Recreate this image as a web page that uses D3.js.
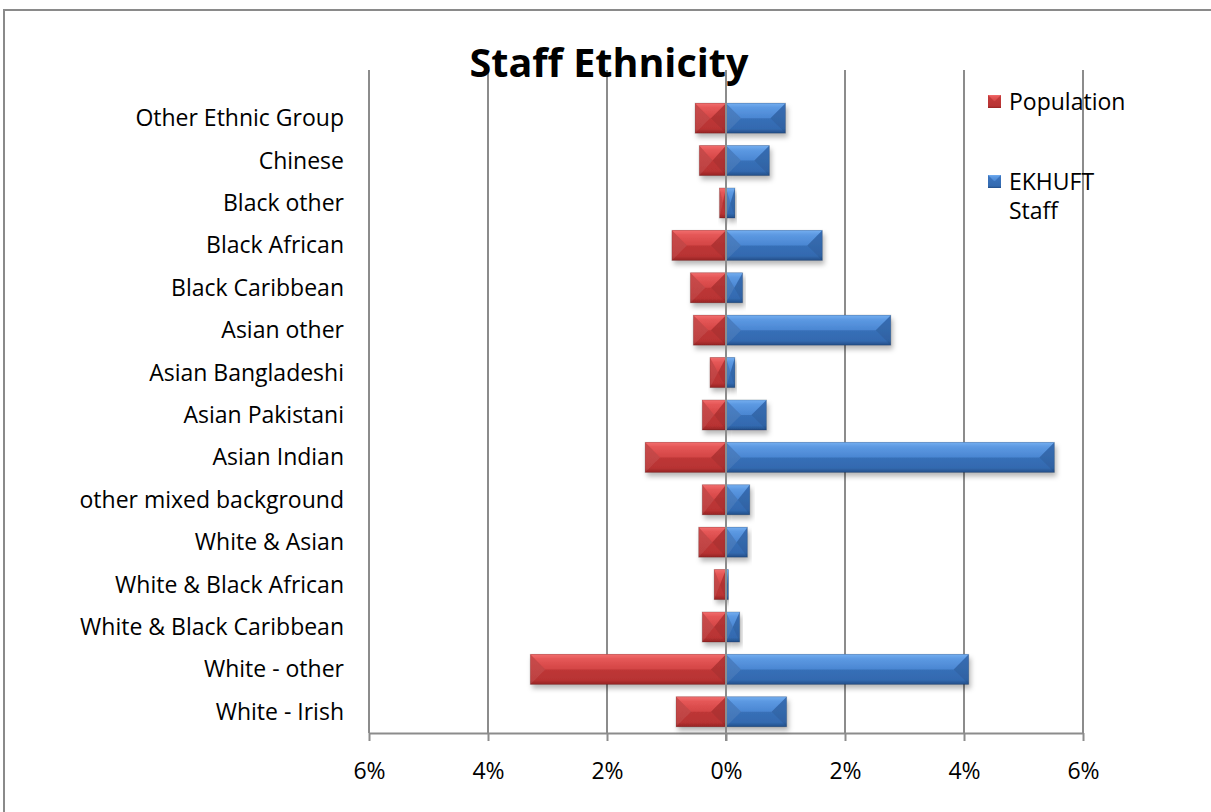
<!DOCTYPE html>
<html>
<head>
<meta charset="utf-8">
<script src="https://cdn.jsdelivr.net/npm/d3@7"></script>
<style>
  body { margin: 0; background: #fff; }
  svg text { font-family: "Open Sans", sans-serif; fill: #000; }
</style>
</head>
<body>
<script>
// categories top to bottom
var categories = ["Other Ethnic Group", "Chinese", "Black other ", "Black African", "Black Caribbean",
  "Asian other", "Asian Bangladeshi", "Asian Pakistani", "Asian Indian", "other mixed background",
  "White & Asian", "White & Black African", "White & Black Caribbean", "White - other", "White - Irish"];
// share of population (drawn to the left)
var population = [-0.0052, -0.0045, -0.0011, -0.0091, -0.0060, -0.0055, -0.0027, -0.0040, -0.0136, -0.0040,
  -0.0046, -0.0020, -0.0040, -0.0329, -0.0084];
// share of EKHUFT staff
var staff = [0.0100, 0.0073, 0.0015, 0.0162, 0.0028, 0.0277, 0.0015, 0.0068, 0.0552, 0.0040,
  0.0036, 0.0004, 0.0023, 0.0408, 0.0102];
var tickValues = [-0.06, -0.04, -0.02, 0, 0.02, 0.04, 0.06];
var seriesNames = ["Population", "EKHUFT Staff"];

var w = 1211, h = 812;
var svg = d3.select("body").append("svg").attr("width", w).attr("height", h);

var defs = svg.append("defs");
function grad(id, stops) {
  var g = defs.append("linearGradient").attr("id", id).attr("x1", 0).attr("y1", 0).attr("x2", 0).attr("y2", 1);
  stops.forEach(function(s) { g.append("stop").attr("offset", s[0]).attr("stop-color", s[1]); });
}
grad("redTop", [[0, "#f26e6e"], [0.3, "#e55757"], [1, "#d34545"]]);
grad("redBody", [[0, "#c63c3c"], [0.85, "#b83333"], [1, "#952424"]]);
grad("blueTop", [[0, "#74aef0"], [0.3, "#5c99e2"], [1, "#4a86d2"]]);
grad("blueBody", [[0, "#3d77c2"], [0.85, "#336ab0"], [1, "#234e88"]]);

var shadow = defs.append("filter").attr("id", "shadow").attr("x", "-10%").attr("y", "-30%").attr("width", "130%").attr("height", "180%");
shadow.append("feDropShadow").attr("dx", 2).attr("dy", 4).attr("stdDeviation", 2.5)
  .attr("flood-color", "#000").attr("flood-opacity", 0.28);

// frame
svg.append("path").attr("d", "M4,812 V10 H1211").attr("fill", "none").attr("stroke", "#8a8a8a").attr("stroke-width", 2);

var x = d3.scaleLinear().domain([-0.06, 0.06]).range([369, 1083]);
var y = d3.scaleBand().domain(categories).range([97, 733]).paddingInner(0.29).paddingOuter(0.145);

// gridlines
svg.append("g").selectAll("line").data(tickValues.filter(function(d) { return d !== 0; })).join("line")
  .attr("x1", function(d) { return x(d); }).attr("x2", function(d) { return x(d); })
  .attr("y1", 70).attr("y2", 733)
  .attr("stroke", "#8c8c8c").attr("stroke-width", 2);

// x axis
var axis = svg.append("g").attr("transform", "translate(0,733)")
  .call(d3.axisBottom(x).tickValues(tickValues).tickSizeInner(8).tickSizeOuter(0)
    .tickFormat(function(d) { return Math.round(Math.abs(d) * 100) + "%"; }));
axis.select(".domain").attr("stroke", "#8c8c8c").attr("stroke-width", 2);
axis.selectAll(".tick line").attr("stroke", "#8c8c8c").attr("stroke-width", 2);
axis.selectAll(".tick text").attr("y", 46).attr("dy", 0).style("font-size", "23px")
  .style("font-family", "'Open Sans', sans-serif").attr("fill", "#000");

// bevelled bars: top slope lighter, diagonals run from the corners to mid height
function drawBar(g, x0, x1, yTop, bh, topFill, bodyFill) {
  var bw = x1 - x0;
  var half = bh / 2, b = Math.min(half, bw / 2);
  var bar = g.append("g").attr("filter", "url(#shadow)");
  bar.append("rect").attr("x", x0).attr("y", yTop).attr("width", bw).attr("height", bh).attr("fill", "url(#" + bodyFill + ")");
  bar.append("path")
    .attr("d", "M" + x0 + "," + yTop + " H" + x1 + " L" + (x1 - b) + "," + (yTop + half) + " H" + (x0 + b) + " Z")
    .attr("fill", "url(#" + topFill + ")");
  bar.append("path")
    .attr("d", "M" + x0 + "," + yTop + " L" + (x0 + b) + "," + (yTop + half) + " L" + x0 + "," + (yTop + bh) + " Z")
    .attr("fill", "#ffffff").attr("opacity", 0.08);
  bar.append("path")
    .attr("d", "M" + x1 + "," + yTop + " L" + (x1 - b) + "," + (yTop + half) + " L" + x1 + "," + (yTop + bh) + " Z")
    .attr("fill", "#000").attr("opacity", 0.07);
  bar.append("rect").attr("x", x0).attr("y", yTop).attr("width", bw).attr("height", bh)
    .attr("fill", "none").attr("stroke", "#000").attr("stroke-opacity", 0.15).attr("stroke-width", 1);
}

var bars = svg.append("g");
categories.forEach(function(c, i) {
  drawBar(bars, x(population[i]), x(0), y(c), y.bandwidth(), "redTop", "redBody");
  drawBar(bars, x(0), x(staff[i]), y(c), y.bandwidth(), "blueTop", "blueBody");
});

// zero line
svg.append("line").attr("x1", x(0)).attr("x2", x(0)).attr("y1", 70).attr("y2", 741)
  .attr("stroke", "#8c8c8c").attr("stroke-width", 2);

// category labels
svg.append("g").selectAll("text").data(categories).join("text")
  .attr("x", 344).attr("y", function(d) { return y(d) + y.bandwidth() / 2; })
  .attr("dy", "0.35em").attr("text-anchor", "end").style("font-size", "23px")
  .text(function(d) { return d; });

// title
svg.append("text").attr("x", 609).attr("y", 77).attr("text-anchor", "middle")
  .style("font-size", "39.5px").style("font-weight", "bold").text("Staff Ethnicity");

// legend
var legend = svg.append("g");
var legendRows = [
  { name: seriesNames[0], top: "redTop", body: "redBody", y: 95, lines: ["Population"] },
  { name: seriesNames[1], top: "blueTop", body: "blueBody", y: 175, lines: ["EKHUFT", "Staff"] }
];
legendRows.forEach(function(r) {
  legend.append("rect").attr("x", 988).attr("y", r.y).attr("width", 13).attr("height", 13).attr("fill", "url(#" + r.body + ")");
  legend.append("path").attr("d", "M988," + r.y + " H1001 L995," + (r.y + 6) + " H994 Z").attr("fill", "url(#" + r.top + ")");
  r.lines.forEach(function(t, k) {
    legend.append("text").attr("x", 1009).attr("y", r.y + 15 + k * 29).style("font-size", "23px").text(t);
  });
});
</script>
</body>
</html>
